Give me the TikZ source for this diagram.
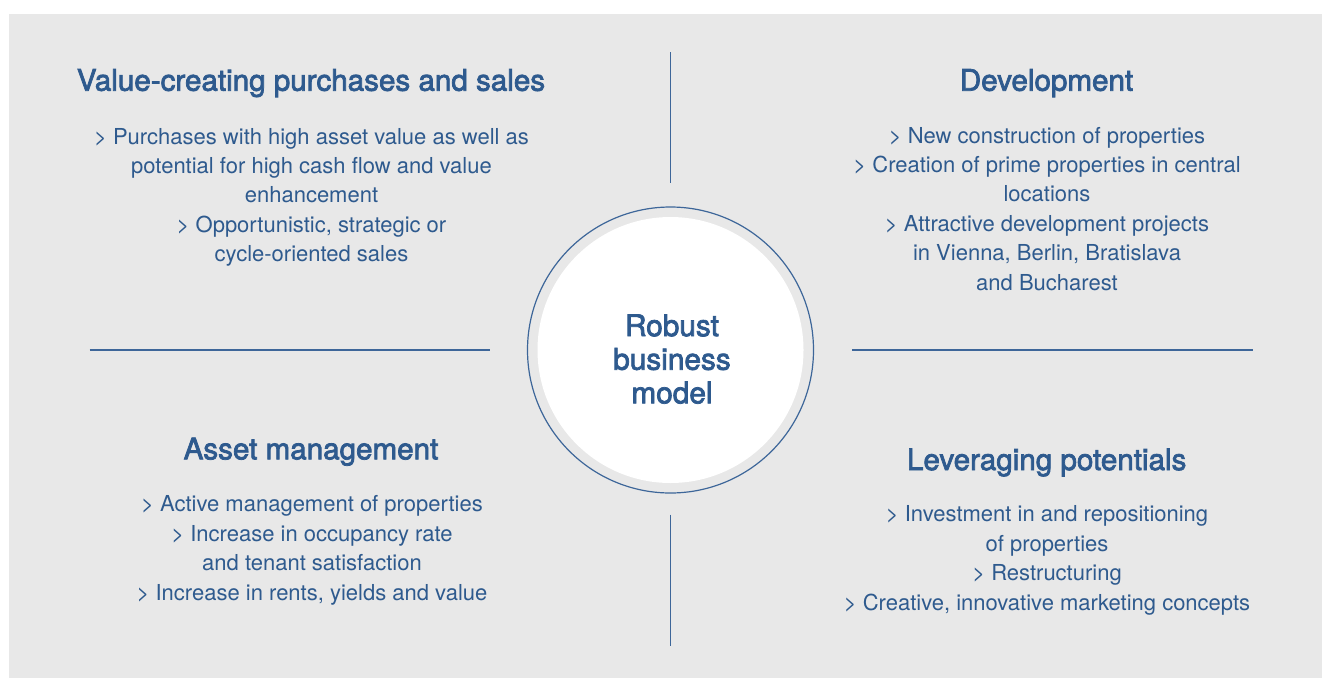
\documentclass[tikz,border=0pt]{standalone}
\usepackage{fontspec}
\setmainfont{TeX Gyre Heros}
\newfontfamily\titlefont{TeX Gyre Heros}[BoldFont={TeX Gyre Heros},BoldFeatures={FakeBold=2.5}]
\definecolor{bgc}{HTML}{E8E8E8}
\definecolor{txtblue}{HTML}{2E5A8E}
\definecolor{lineblue}{HTML}{3D6699}
\begin{document}
\begin{tikzpicture}[x=1pt,y=-1pt,
  titletxt/.style={anchor=base,inner sep=0,text=txtblue,font=\titlefont\bfseries\fontsize{29.6}{33}\selectfont},
  bodytxt/.style={anchor=base,inner sep=0,text=txtblue,align=center,font=\fontsize{22}{29.4}\selectfont},
  divider/.style={draw=lineblue,line width=1.5pt}]
\useasboundingbox (0,0) rectangle (1322,678);
\fill[bgc] (9,14) rectangle (1322,678);
% centre
\node[circle,fill=white,minimum size=266pt,inner sep=0] (core) at (670.5,350) {};
\node[circle,draw=lineblue,line width=1.2pt,minimum size=286pt,inner sep=0] (ring) at (670.5,350) {};
\node[anchor=base,inner sep=0,text=txtblue,align=center,font=\titlefont\bfseries\fontsize{29.8}{33.6}\selectfont] (model) at (672,403.3) {Robust\\business\\model};
% dividers
\coordinate (vt1) at (670.7,52); \coordinate (vt2) at (670.7,183);
\coordinate (vb1) at (670.7,514.5); \coordinate (vb2) at (670.7,646);
\coordinate (hl1) at (89.5,350); \coordinate (hl2) at (490,350);
\coordinate (hr1) at (852,350); \coordinate (hr2) at (1252.5,350);
\draw[divider] (vt1) -- (vt2);
\draw[divider] (vb1) -- (vb2);
\draw[divider] (hl1) -- (hl2);
\draw[divider] (hr1) -- (hr2);
% quadrants
\node[titletxt] (t1) at (311,90.7) {Value-creating purchases and sales};
\node[bodytxt] (b1) at (311.5,261.7) {> Purchases with high asset value as well as\\potential for high cash flow and value\\enhancement\\> Opportunistic, strategic or\\cycle-oriented sales};
\node[titletxt] (t2) at (1046.5,90.7) {Development};
\node[bodytxt] (b2) at (1047,290) {> New construction of properties\\> Creation of prime properties in central\\locations\\> Attractive development projects\\in Vienna, Berlin, Bratislava\\and Bucharest};
\node[titletxt] (t3) at (311,459.3) {Asset management};
\node[bodytxt] (b3) at (312,600) {> Active management of properties\\> Increase in occupancy rate\\and tenant satisfaction\\> Increase in rents, yields and value};
\node[titletxt] (t4) at (1046.7,470) {Leveraging potentials};
\node[bodytxt] (b4) at (1047,610) {> Investment in and repositioning\\of properties\\> Restructuring\\> Creative, innovative marketing concepts};
\end{tikzpicture}
\end{document}
